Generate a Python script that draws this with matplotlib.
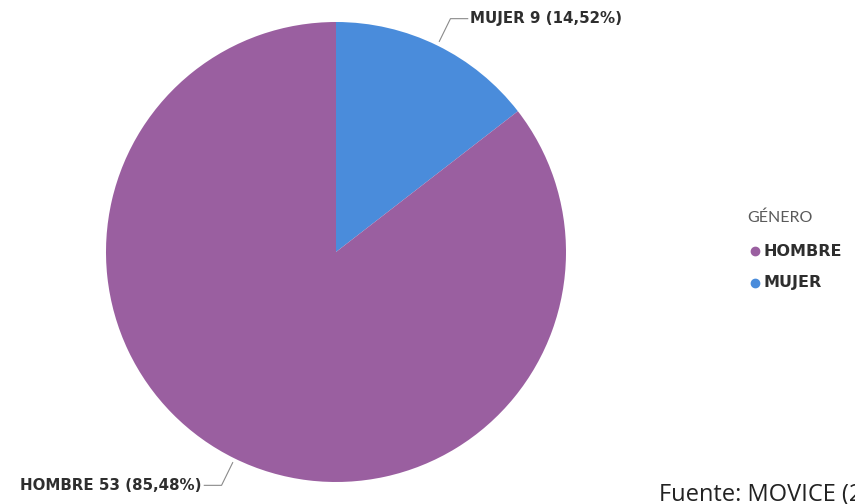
import numpy as np
import matplotlib.pyplot as plt
from matplotlib.lines import Line2D

# Datos de género
categorias = ["MUJER", "HOMBRE"]
conteos = [9, 53]
porcentajes = [14.52, 85.48]
colores = ["#4a8cdb", "#9a5fa0"]
orden_leyenda = ["HOMBRE", "MUJER"]
titulo_leyenda = "GÉNERO"
fuente = "Fuente: MOVICE (2020)"

W, H = 855, 504
fig = plt.figure(figsize=(W / 100, H / 100), dpi=100)

# el círculo tiene radio de 230 px y centro en (336, 252)
cx, cy, r = 336, 252, 230
ax = fig.add_axes([(cx - r) / W, (H - cy - r) / H, 2 * r / W, 2 * r / H])

wedges, _ = ax.pie(conteos, colors=colores, startangle=90, counterclock=False,
                   wedgeprops=dict(linewidth=0))
ax.set_xlim(-1, 1)
ax.set_ylim(-1, 1)
ax.set_aspect("equal")
ax.axis("off")

# etiquetas con línea guía
for w, cat, n, p in zip(wedges, categorias, conteos, porcentajes):
    ang = np.deg2rad((w.theta1 + w.theta2) / 2)
    x0, y0 = 1.02 * np.cos(ang), 1.02 * np.sin(ang)
    x1, y1 = 1.13 * np.cos(ang), 1.13 * np.sin(ang)
    lado = 1 if x0 > 0 else -1
    x2 = x1 + lado * 0.075
    ax.plot([x0, x1, x2], [y0, y1, y1], color="#8a8a8a", lw=0.8, clip_on=False)
    texto = f"{cat} {n} ({p:.2f}%)".replace(".", ",")
    ax.text(x2 + lado * 0.01, y1, texto, ha="left" if lado > 0 else "right",
            va="center", fontsize=10.8, fontweight="bold", color="#2e2e2e",
            family="DejaVu Sans", clip_on=False)

# leyenda
fig.text(747 / W, 1 - 218 / H, titulo_leyenda, fontsize=11.5, color="#5a5a5a",
         family="Lato", va="center", ha="left")
color_de = dict(zip(categorias, colores))
for i, cat in enumerate(orden_leyenda):
    y = 1 - (251 + 32 * i) / H
    fig.add_artist(Line2D([755 / W], [y], marker="o", markersize=6,
                          color=color_de[cat], transform=fig.transFigure))
    fig.text(763 / W, y, cat, fontsize=11.5, fontweight="bold", color="#2e2e2e",
             family="DejaVu Sans", va="center", ha="left")

# nota de fuente, sale por el borde derecho
fig.text(659 / W, 1 - 495 / H, fuente, fontsize=17, color="#222222",
         family="Open Sans", va="center", ha="left")

fig.savefig("out.png", dpi=100, facecolor="white")
